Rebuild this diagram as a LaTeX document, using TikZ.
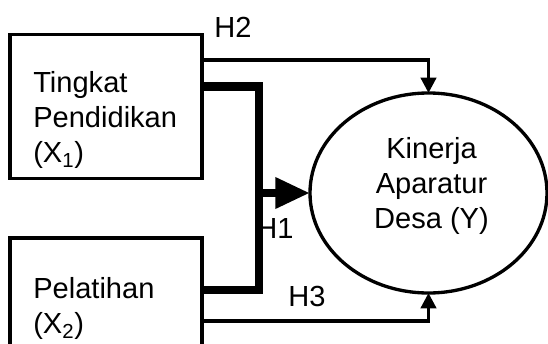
\documentclass[tikz,border=0pt]{standalone}
\usepackage{fontspec}
\setmainfont{Liberation Sans}
\usetikzlibrary{shapes.geometric, calc, arrows.meta}
\newcommand{\diagfont}{\fontsize{21.8pt}{26.25pt}\selectfont}

\begin{document}
\begin{tikzpicture}[
        x=0.75pt, y=-0.75pt,
        box/.style={
            draw,
            rectangle,
            minimum width=144pt,
            minimum height=108pt,
            inner sep=0pt,
            outer sep=0pt,
            line width=2.9pt
        },
        boxtext/.style={anchor=north west, align=left, inner sep=0pt, font=\diagfont},
        target/.style={
            draw,
            ellipse,
            minimum width=177.75pt,
            minimum height=150pt,
            inner sep=0pt,
            outer sep=0pt,
            line width=2.5pt
        },
        hyp/.style={inner sep=0pt, font=\diagfont},
        link/.style={line width=2.4pt, -{Triangle[length=11.5pt, width=11.5pt]}},
        bus/.style={line width=6.3pt},
        busarrow/.style={line width=6.3pt, -{Triangle[length=26pt, width=22pt]}}
    ]

    \clip (0,0) rectangle (548,343);

    \node[box]    (x1) at (106,106.5) {};
    \node[box]    (x2) at (106,310)   {};
    \node[target] (y)  at (428.5,193) {};

    \node[boxtext] (x1text) at ($(x1.north west)+(23,37)$) {Tingkat\\Pendidikan\\(X\textsubscript{1})};
    \node[boxtext] (x2text) at ($(x2.north west)+(23,39)$) {Pelatihan\\(X\textsubscript{2})};
    \node[hyp, align=center] (ytext) at ($(y.center)+(3,-7)$) {Kinerja\\Aparatur\\Desa (Y)};

    \node[hyp] (h2) at (233,27)  {H2};
    \node[hyp] (h1) at (275,228) {H1};
    \node[hyp] (h3) at (307,296) {H3};

    \draw[link] ($(x1.north east)+(0,25.5)$) -| (y.north);
    \draw[link] ($(x2.north east)+(0,83)$) -| (y.south);

    \draw[bus] ($(x1.north east)+(0,52)$) -- ++(57,0) |- ($(x2.north east)+(0,52)$);
    \coordinate (join) at (259,193);
    \draw[busarrow] (join) -- (y.west);
\end{tikzpicture}
\end{document}
